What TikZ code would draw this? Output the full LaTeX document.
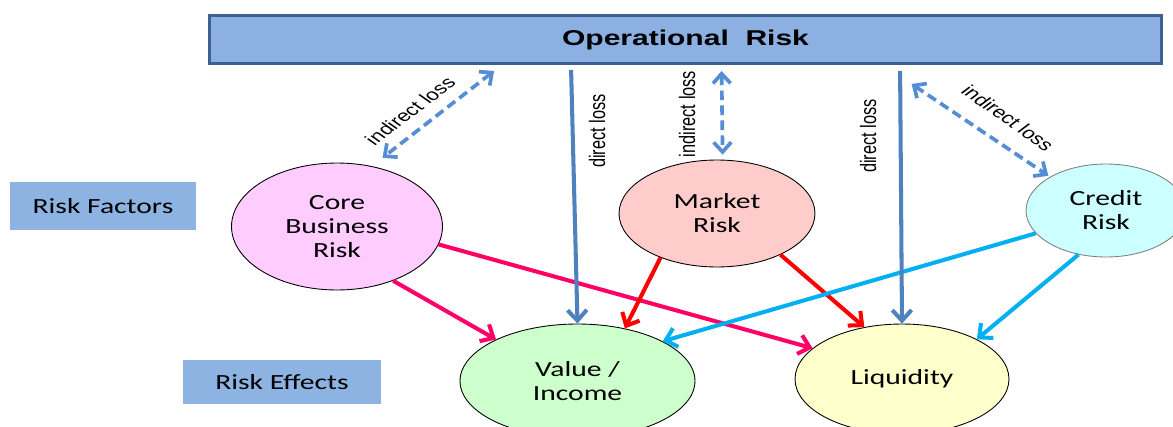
\documentclass[tikz,border=0pt]{standalone}
\usepackage{fontspec}
\usepackage{xcolor}
\usepackage{tikz}
\usetikzlibrary{positioning}
\usetikzlibrary{shapes.geometric}
\usetikzlibrary{arrows.meta}
\newfontfamily\calfont[FakeStretch=1.37]{Carlito}
\newfontfamily\widearial[FakeStretch=1.4]{Liberation Sans}
\newfontfamily\arial{Liberation Sans}
\definecolor{barblue}{RGB}{141,176,226}
\definecolor{barborder}{RGB}{62,96,145}
\definecolor{tagblue}{RGB}{141,179,226}
\definecolor{corepink}{RGB}{255,204,255}
\definecolor{marketred}{RGB}{255,204,204}
\definecolor{creditcyan}{RGB}{204,255,255}
\definecolor{valuegreen}{RGB}{204,255,204}
\definecolor{liqyellow}{RGB}{255,255,204}
\definecolor{directblue}{RGB}{79,129,189}
\definecolor{dashblue}{RGB}{85,142,213}
\definecolor{pinkred}{RGB}{255,0,102}
\definecolor{cyanblue}{RGB}{0,176,240}

\begin{document}
\begin{tikzpicture}
  [
    x=0.02cm, y=-0.02cm,
    risk/.style={
      ellipse,
      draw=black,
      line width=0.5pt,
      inner sep=0pt,
      align=center,
      font=\calfont\fontsize{12.3}{13.6}\selectfont
    },
    tag/.style={fill=tagblue,inner sep=0pt,font=\calfont\fontsize{12.3}{13.6}\selectfont},
    loss/.style={font=\arial\fontsize{9.3}{11}\selectfont,inner sep=0pt,xscale=1.37},
    direct/.style={draw=directblue,line width=2.3pt,-{Straight Barb[length=6pt,width=11pt]}},
    indirect/.style={draw=dashblue,line width=2.1pt,dash pattern=on 5.5pt off 3pt,
      {Straight Barb[length=5.5pt,width=10pt]}-{Straight Barb[length=5.5pt,width=10pt]}},
    effect/.style={line width=2.3pt,-{Straight Barb[length=6pt,width=11pt]}}
  ]
  \useasboundingbox (0,0) rectangle (1173,426);

  \node (oprisk) at (685.5,39.5) [draw=barborder, line width=1.7pt, fill=barblue,
    minimum width=19.04cm, minimum height=0.96cm, inner sep=0pt,
    font=\widearial\bfseries\fontsize{12.2}{14}\selectfont] {Operational\ \ Risk};

  \node (factors) at (103,206) [tag, minimum width=3.72cm, minimum height=0.96cm] {Risk Factors};
  \node (effects) at (282,382) [tag, minimum width=3.96cm, minimum height=0.88cm] {Risk Effects};

  \node (core)   at (337,226.5)  [risk, fill=corepink,   minimum width=4.22cm, minimum height=2.54cm] {Core\\Business\\Risk};
  \node (market) at (717,213.5)  [risk, fill=marketred,  minimum width=3.92cm, minimum height=2.14cm] {Market\\Risk};
  \node (credit) at (1106,210.5) [risk, fill=creditcyan, draw=gray, minimum width=3.2cm, minimum height=1.86cm] {Credit\\Risk};
  \node (value)  at (577.5,381)  [risk, fill=valuegreen, minimum width=4.7cm, minimum height=2.28cm] {Value /\\Income};
  \node (liquid) at (902,379)    [risk, fill=liqyellow,  minimum width=4.28cm, minimum height=2.2cm] {Liquidity};

  \node (loss1) at (410,111) [loss, rotate=46]  {indirect loss};
  \node (loss2) at (597,131) [loss, rotate=90]  {direct loss};
  \node (loss3) at (687,114) [loss, rotate=90]  {indirect loss};
  \node (loss4) at (868,136) [loss, rotate=90]  {direct loss};
  \node (loss5) at (1008,118) [loss, rotate=-44] {indirect loss};

  \draw [effect, draw=pinkred] (core.-44) -- (value.153);
  \draw [effect, draw=pinkred] (core.-10) -- (liquid.161);
  \draw [effect, draw=red] (market.218) -- (value.48);
  \draw [effect, draw=red] (market.-33) -- (liquid.126);
  \draw [effect, draw=cyanblue] (credit.198) -- (value.25);
  \draw [effect, draw=cyanblue] (credit.238) -- (liquid.28);

  \draw [direct] ([shift={(363,5)}]oprisk.south west) -- (value.north);
  \draw [direct] ([shift={(692,6)}]oprisk.south west) -- (liquid.north);

  \draw [indirect, shorten >=0.27cm] ([shift={(286,6)}]oprisk.south west) -- (core.60);
  \draw [indirect, shorten >=0.1cm] ([shift={(513.5,6)}]oprisk.south west) -- (market.84);
  \draw [indirect, shorten >=0.04cm] ([shift={(703.5,19)}]oprisk.south west) -- (credit.149);
\end{tikzpicture}
\end{document}
